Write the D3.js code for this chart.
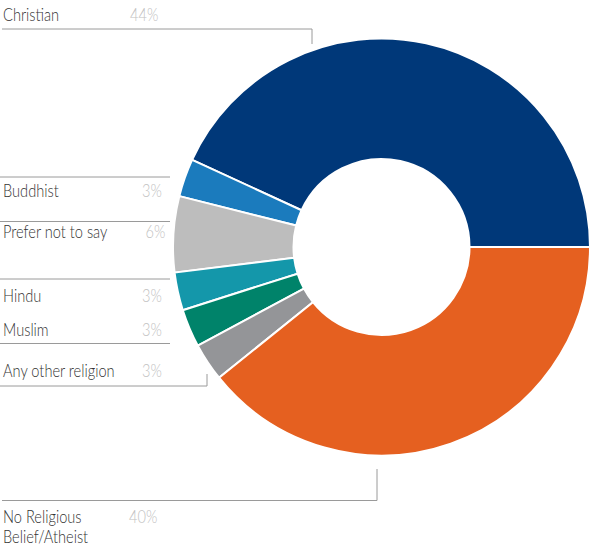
<!DOCTYPE html>
<html lang="en">
<head>
    <meta charset="UTF-8">
    <title>Religion</title>
    <script src="https://d3js.org/d3.v7.min.js"></script>
</head>
<style>
    body { margin: 0; background: #fff; }
    text { font-family: Lato, "Open Sans", sans-serif; font-weight: 300; }
</style>
<body>
<script>
    // slice order runs counterclockwise from 3 o'clock
    const categories = ["Christian", "Buddhist", "Prefer not to say", "Hindu", "Muslim", "Any other religion", "No Religious Belief/Atheist"];
    const values = [44, 3, 6, 3, 3, 3, 40];
    const colors = ["#003879", "#1b7bbd", "#bdbdbd", "#1497aa", "#00836a", "#949598", "#e56020"];

    const cx = 381.5, cy = 247, outerR = 208.5, innerR = 88;

    const svg = d3.select("body")
            .append("svg")
            .attr("width", 597)
            .attr("height", 546);

    const pie = d3.pie().sort(null)
            .startAngle(Math.PI / 2)
            .endAngle(Math.PI / 2 - 2 * Math.PI);
    const arc = d3.arc().innerRadius(innerR).outerRadius(outerR);

    svg.append("g")
            .attr("transform", `translate(${cx},${cy})`)
            .selectAll("path")
            .data(pie(values))
            .join("path")
            .attr("d", arc)
            .attr("fill", (d, i) => colors[i])
            .attr("stroke", "#fff")
            .attr("stroke-width", 2);

    // label layout: text lines, percent x, guide polyline
    const labels = [
        {lines: ["Christian"], y: 20.5, px: 130, guide: [[2, 29], [312, 29], [312, 44]]},
        {lines: ["Buddhist"], y: 196.5, px: 142, guide: [[0, 177], [170, 177]]},
        {lines: ["Prefer not to say"], y: 238, px: 145.5, guide: [[0, 221.5], [170, 221.5]]},
        {lines: ["Hindu"], y: 301.5, px: 142, guide: [[0, 279], [170, 279]]},
        {lines: ["Muslim"], y: 335.5, px: 142, guide: [[0, 343.5], [170, 343.5]]},
        {lines: ["Any other religion"], y: 376.5, px: 142, guide: [[0, 386], [207, 386], [207, 374]]},
        {lines: ["No Religious", "Belief/Atheist"], y: 523, px: 129, guide: [[2, 500.5], [377, 500.5], [377, 469]]}
    ];

    const g = svg.append("g");
    labels.forEach((l, i) => {
        g.append("path")
                .attr("d", d3.line()(l.guide))
                .attr("fill", "none")
                .attr("stroke", "#9a9a9a")
                .attr("stroke-width", 1);
        const t = g.append("text")
                .attr("transform", `translate(3,${l.y}) scale(0.86,1)`)
                .attr("font-size", 17)
                .attr("fill", "#333");
        l.lines.forEach((s, j) => {
            t.append("tspan").attr("x", 0).attr("dy", j === 0 ? 0 : 20).text(s);
        });
        g.append("text")
                .attr("transform", `translate(${l.px},${l.y}) scale(0.86,1)`)
                .attr("font-size", 17)
                .attr("fill", "#c2c2c2")
                .text(values[i] + "%");
    });
</script>
</body>
</html>
